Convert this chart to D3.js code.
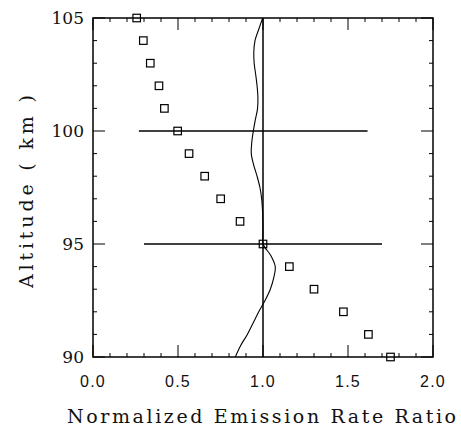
<!DOCTYPE html>
<html>
<head>
<meta charset="utf-8">
<script src="https://cdn.jsdelivr.net/npm/d3@7/dist/d3.min.js"></script>
<style>
  html, body { margin: 0; padding: 0; background: #fff; }
  svg { display: block; }
</style>
</head>
<body>
<script>
// Measured ratio (squares) at each altitude
const markerAltitudes = [105, 104, 103, 102, 101, 100, 99, 98, 97, 96, 95, 94, 93, 92, 91, 90];
const markerRatios = [0.257, 0.296, 0.337, 0.388, 0.42, 0.498, 0.565, 0.657, 0.751, 0.865, 1.0, 1.155, 1.30, 1.473, 1.62, 1.75];

// Modelled ratio profile (solid curve)
const curveAltitudes = [105, 104.5, 104, 103.5, 103, 102.5, 102, 101.5, 101, 100.5, 100, 99.5, 99, 98.5, 98, 97.5, 97, 96.5, 96, 95.5, 95, 94.5, 94, 93.5, 93, 92.5, 92, 91.5, 91, 90.5, 90];
const curveRatios = [0.998, 0.975, 0.953, 0.946, 0.948, 0.957, 0.965, 0.970, 0.968, 0.955, 0.943, 0.934, 0.931, 0.945, 0.965, 0.982, 0.992, 0.997, 0.999, 1.0, 1.0, 1.045, 1.072, 1.063, 1.043, 1.012, 0.975, 0.942, 0.908, 0.868, 0.837];

// Horizontal range bars: altitude, left and right ratio
const barAltitudes = [100, 95];
const barLeft = [0.27, 0.30];
const barRight = [1.615, 1.70];

// Reference value line
const referenceRatio = [1.0];

const xTicks = [0.0, 0.5, 1.0, 1.5, 2.0];
const yTicks = [90, 95, 100, 105];
const xTitle = "Normalized Emission Rate Ratio";
const yTitle = "Altitude ( km )";

const W = 461, H = 437;
const L = 93, R = 433, T = 18, B = 357;
const SERIF = "'DejaVu Serif', 'Liberation Serif', serif";
const SANS = "'Liberation Sans', 'DejaVu Sans', sans-serif";

const x = d3.scaleLinear().domain([0, 2]).range([L, R]);
const y = d3.scaleLinear().domain([90, 105]).range([B, T]);

const svg = d3.select("body").append("svg").attr("width", W).attr("height", H);

// Frame
svg.append("rect")
  .attr("x", L).attr("y", T).attr("width", R - L).attr("height", B - T)
  .attr("fill", "none").attr("stroke", "#000").attr("stroke-width", 1.5);

// Inward ticks on all four sides
const minorX = d3.range(0, 2.0001, 0.1);
const minorY = d3.range(90, 105.0001, 1);
const isMajor = (v, step) => Math.abs(v / step - Math.round(v / step)) < 1e-6;

const tickG = svg.append("g").attr("stroke", "#000").attr("stroke-width", 1);
minorX.forEach(v => {
  const len = isMajor(v, 0.5) ? 12 : 4;
  tickG.append("line").attr("x1", x(v)).attr("x2", x(v)).attr("y1", B).attr("y2", B - len);
  tickG.append("line").attr("x1", x(v)).attr("x2", x(v)).attr("y1", T).attr("y2", T + len);
});
minorY.forEach(v => {
  const len = isMajor(v, 5) ? 12 : 4;
  tickG.append("line").attr("y1", y(v)).attr("y2", y(v)).attr("x1", L).attr("x2", L + len);
  tickG.append("line").attr("y1", y(v)).attr("y2", y(v)).attr("x1", R).attr("x2", R - len);
});

// Tick labels
svg.append("g").selectAll("text").data(xTicks).join("text")
  .attr("x", d => x(d)).attr("y", 387)
  .attr("text-anchor", "middle")
  .attr("font-family", SANS)
  .attr("font-size", 16).attr("letter-spacing", 1.2)
  .attr("fill", "#111")
  .text(d => d3.format(".1f")(d));

svg.append("g").selectAll("text").data(yTicks).join("text")
  .attr("x", 84).attr("y", d => y(d)).attr("dy", "0.36em")
  .attr("text-anchor", "end")
  .attr("font-family", SERIF)
  .attr("font-size", 17)
  .attr("fill", "#111")
  .text(d => d);

// Axis titles
svg.append("text")
  .attr("x", 67).attr("y", 423)
  .attr("font-family", SERIF)
  .attr("font-size", 19)
  .attr("textLength", 389).attr("lengthAdjust", "spacing")
  .attr("fill", "#111")
  .text(xTitle);

svg.append("text")
  .attr("transform", "translate(33,288) rotate(-90)")
  .attr("font-family", SERIF)
  .attr("font-size", 19)
  .attr("textLength", 193).attr("lengthAdjust", "spacing")
  .attr("fill", "#111")
  .text(yTitle);

// Reference line at ratio 1
svg.append("g").selectAll("line").data(referenceRatio).join("line")
  .attr("x1", d => x(d)).attr("x2", d => x(d))
  .attr("y1", y(90)).attr("y2", y(105))
  .attr("stroke", "#000").attr("stroke-width", 1.5);

// Horizontal range bars
svg.append("g").selectAll("line").data(barAltitudes).join("line")
  .attr("x1", (d, i) => x(barLeft[i])).attr("x2", (d, i) => x(barRight[i]))
  .attr("y1", d => y(d)).attr("y2", d => y(d))
  .attr("stroke", "#000").attr("stroke-width", 1.4);

// Model curve
const curveData = curveAltitudes.map((a, i) => [curveRatios[i], a]);
svg.append("path")
  .datum(curveData)
  .attr("d", d3.line().x(d => x(d[0])).y(d => y(d[1])).curve(d3.curveCatmullRom))
  .attr("fill", "none").attr("stroke", "#000").attr("stroke-width", 1.1);

// Square markers
const S = 7.5;
svg.append("g").selectAll("rect").data(markerAltitudes).join("rect")
  .attr("x", (d, i) => x(markerRatios[i]) - S / 2)
  .attr("y", d => y(d) - S / 2)
  .attr("width", S).attr("height", S)
  .attr("fill", "none").attr("stroke", "#000").attr("stroke-width", 1.2);
</script>
</body>
</html>
